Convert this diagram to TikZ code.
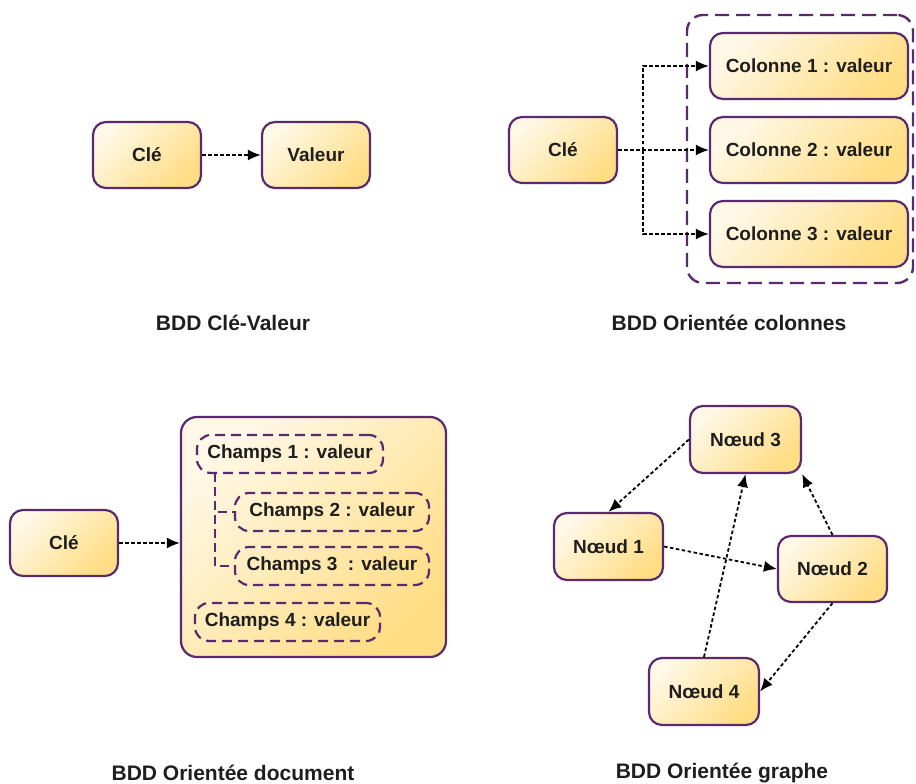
\documentclass[tikz,border=0pt]{standalone}
\usepackage{fontspec}
\setmainfont{Liberation Sans}
\usetikzlibrary{arrows.meta,shapes.misc}
\definecolor{bordp}{HTML}{5B2A6E}
\definecolor{filllight}{HTML}{FFF8E6}
\definecolor{filldark}{HTML}{FFDD84}
\definecolor{txt}{HTML}{1E1E1E}
\tikzset{
  dbbox/.style={draw=bordp, line width=2.2pt, rounded corners=13pt,
    top color=filllight, bottom color=filldark, shading angle=45,
    minimum width=108pt, minimum height=66pt, inner sep=0pt, text=txt,
    font=\bfseries\fontsize{19}{21}\selectfont},
  fieldbox/.style={draw=bordp, line width=2.2pt, dash pattern=on 10pt off 6pt,
    rounded corners=14pt, minimum height=38pt, inner sep=0pt, text=txt,
    font=\bfseries\fontsize{19}{21}\selectfont},
  conn/.style={draw=black, line width=1.8pt, dash pattern=on 3.5pt off 2.5pt,
    -{Latex[length=13pt,width=11pt]}},
  caption/.style={font=\bfseries\fontsize{21}{24}\selectfont, inner sep=0pt, text=txt},
  treeline/.style={draw=bordp, line width=1.5pt, dash pattern=on 9pt off 5pt}
}
\begin{document}
\begin{tikzpicture}[x=1pt,y=-1pt]
\useasboundingbox (0,0) rectangle (916,784);

% --- Clé-Valeur
\node[dbbox] (kv1) at (147,155) {Clé};
\node[dbbox] (kv2) at (316,155) {Valeur};
\draw[conn] (kv1.east) -- (kv2.west);
\node[caption] (capkv) at (233,323) {BDD Clé-Valeur};

% --- Colonnes
\node[draw=bordp, line width=2.4pt, dash pattern=on 14pt off 7pt, rounded corners=16pt,
  minimum width=226pt, minimum height=268pt, inner sep=0pt] (cont) at (800,149) {};
\node[dbbox] (ck) at (563,150) {Clé};
\node[dbbox, minimum width=198pt] (col1) at (809,66) {Colonne 1 : valeur};
\node[dbbox, minimum width=198pt] (col2) at (809,150) {Colonne 2 : valeur};
\node[dbbox, minimum width=198pt] (col3) at (809,234) {Colonne 3 : valeur};
\coordinate (branch) at (643,150);
\draw[conn] (ck.east) -- (col2.west);
\draw[conn] (branch) |- (col1.west);
\draw[conn] (branch) |- (col3.west);
\node[caption] (capcol) at (729,323) {BDD Orientée colonnes};

% --- Document
\node[dbbox] (dk) at (64,543) {Clé};
\node[dbbox, rounded corners=16pt, minimum width=265pt, minimum height=240pt] (doc) at (313.5,537) {};
\draw[conn] (dk.east) -- (dk.east -| doc.west);
\node[fieldbox, minimum width=186pt] (f1) at (290,454) {Champs 1 : valeur};
\node[fieldbox, minimum width=194pt] (f2) at (332,512) {Champs 2 : valeur};
\node[fieldbox, minimum width=194pt] (f3) at (332,566) {Champs 3\ \ : valeur};
\node[fieldbox, minimum width=185pt] (f4) at (287.5,622) {Champs 4 : valeur};
\coordinate (tr) at (215,473);
\draw[treeline] (tr) |- (f2.west);
\draw[treeline] (tr) |- (f3.west);
\node[caption] (capdoc) at (233,773) {BDD Orientée document};

% --- Graphe
\node[dbbox, minimum width=111pt, minimum height=67pt] (n3) at (745.5,439.5) {Nœud 3};
\node[dbbox, minimum width=109pt, minimum height=67pt] (n1) at (608.5,546.5) {Nœud 1};
\node[dbbox, minimum width=109pt, minimum height=66pt] (n2) at (832.5,569) {Nœud 2};
\node[dbbox, minimum width=110pt, minimum height=67pt] (n4) at (704,691.5) {Nœud 4};
\draw[conn] (n3.west) -- (n1.north);
\draw[conn] (n1.east) -- (n2.west);
\draw[conn] (n2.north) -- (n3.south east);
\draw[conn] (n2.south) -- (n4.east);
\draw[conn] (n4.north) -- (n3.south);
\node[caption] (capgr) at (722,773) {BDD Orientée graphe};
\end{tikzpicture}
\end{document}
